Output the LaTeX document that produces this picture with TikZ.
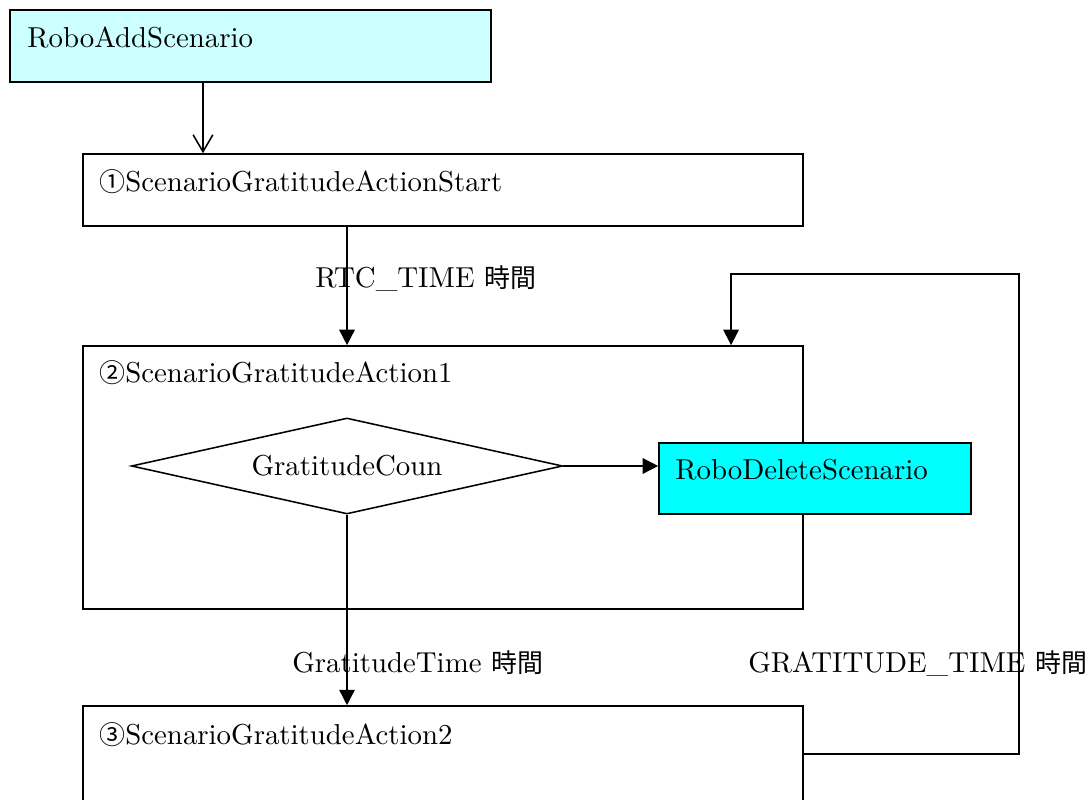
\documentclass[tikz,border=0pt]{standalone}
\usepackage{fontspec}
\setmainfont{lmroman10-regular.otf}
\newfontfamily\jp[Scale=0.9]{Noto Sans CJK JP}
\definecolor{lightcyan}{HTML}{CCFFFF}
\definecolor{robocyan}{HTML}{00FFFF}
\usetikzlibrary{shapes.geometric, arrows.meta}

\begin{document}
\begin{tikzpicture}[x=0.025cm, y=-0.025cm,
    font=\fontsize{20.5}{24}\selectfont,
    box/.style={draw, line width=1.1pt, minimum width=18cm, inner sep=0pt},
    txt/.style={anchor=base west, inner sep=0pt},
    arr/.style={line width=1.1pt, -{Triangle[length=11pt,width=11pt]}}]

\useasboundingbox (0,0) rectangle (1092,800);

% boxes
\node[box, fill=lightcyan, minimum width=12.025cm, minimum height=1.8cm] (add) at (250.5,46) {};
\node[box, minimum height=1.8cm] (start) at (443,190) {};
\node[box, minimum height=6.575cm] (act1) at (443,477.5) {};
\node[box, minimum height=2.4cm] (act2) at (443,754) {};
\node[draw, line width=1.1pt, shape=diamond, aspect=4.49, inner sep=0pt,
    minimum width=10.775cm, minimum height=2.4cm] (count) at (347,466) {GratitudeCoun};
\node[box, fill=robocyan, minimum width=7.8cm, minimum height=1.775cm] (del) at (815,478.5) {};

% box texts
\node[txt] (addtxt) at ([shift={(18,38)}]add.north west) {RoboAddScenario};
\node[txt] (starttxt) at ([shift={(17,38)}]start.north west) {{\jp ①}ScenarioGratitudeActionStart};
\node[txt] (act1txt) at ([shift={(17,37)}]act1.north west) {{\jp ②}ScenarioGratitudeAction1};
\node[txt] (act2txt) at ([shift={(17,39)}]act2.north west) {{\jp ③}ScenarioGratitudeAction2};
\node[txt] (deltxt) at ([shift={(17,37)}]del.north west) {RoboDeleteScenario};

% connectors
\draw[line width=1.1pt, -{Straight Barb[length=12pt,width=14pt]}]
    ([xshift=-1.1875cm]add.south) -- ([xshift=-1.1875cm]add.south |- start.north);
\draw[arr] (start.south -| count.north) -- (act1.north -| count.north);
\draw[arr] (count.east) -- (count.east -| del.west);
\draw[arr] (count.south) -- (count.south |- act2.north);
\coordinate (loop) at (1019,274);
\draw[arr] (act2.east) -| (loop) -| ([xshift=7.2cm]act1.north);

% labels
\node[txt] (rtc) at (315,288) {RTC\_TIME {\jp 時間}};
\node[txt] (gtime) at (292,672) {GratitudeTime {\jp 時間}};
\node[txt] (gconst) at (748,672) {GRATITUDE\_TIME {\jp 時間}};

\end{tikzpicture}
\end{document}
